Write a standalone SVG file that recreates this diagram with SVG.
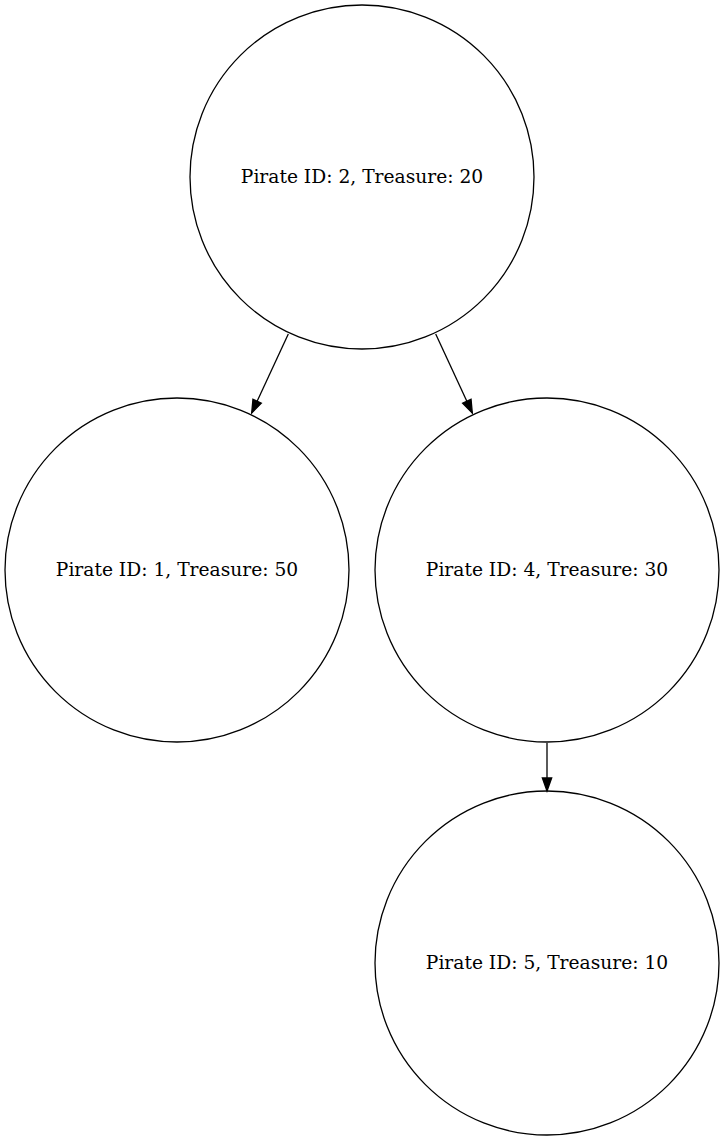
<svg xmlns="http://www.w3.org/2000/svg" width="725" height="1141" viewBox="0 0 725 1141">
<style>
.node ellipse{fill:none;stroke:#000;stroke-width:1.3}
.node text{font-family:"DejaVu Serif","Liberation Serif",serif;font-size:18.67px;text-anchor:middle;fill:#000}
.edge{stroke:#000;stroke-width:1.3;fill:none;marker-end:url(#arrow)}
</style>
<defs>
<marker id="arrow" markerUnits="userSpaceOnUse" markerWidth="16" markerHeight="12" refX="14" refY="6" orient="auto" overflow="visible">
<polygon points="1,1.35 14,6 1,10.65" fill="#000" stroke="#000" stroke-width="1.3"/>
</marker>
</defs>
<rect width="725" height="1141" fill="#fff"/>
<g id="connectors">
<path class="edge" d="M288.3,334 L251.7,413"/>
<path class="edge" d="M435.7,334 L472.3,413"/>
<path class="edge" d="M547,743 L547,791"/>
</g>
<g id="node2" class="node">
<ellipse cx="362" cy="177" rx="172" ry="172"/>
<text x="362" y="183">Pirate ID: 2, Treasure: 20</text>
</g>
<g id="node1" class="node">
<ellipse cx="177" cy="570" rx="172" ry="172"/>
<text x="177" y="576">Pirate ID: 1, Treasure: 50</text>
</g>
<g id="node4" class="node">
<ellipse cx="547" cy="570" rx="172" ry="172"/>
<text x="547" y="576">Pirate ID: 4, Treasure: 30</text>
</g>
<g id="node5" class="node">
<ellipse cx="547" cy="963" rx="172" ry="172"/>
<text x="547" y="969">Pirate ID: 5, Treasure: 10</text>
</g>
</svg>
